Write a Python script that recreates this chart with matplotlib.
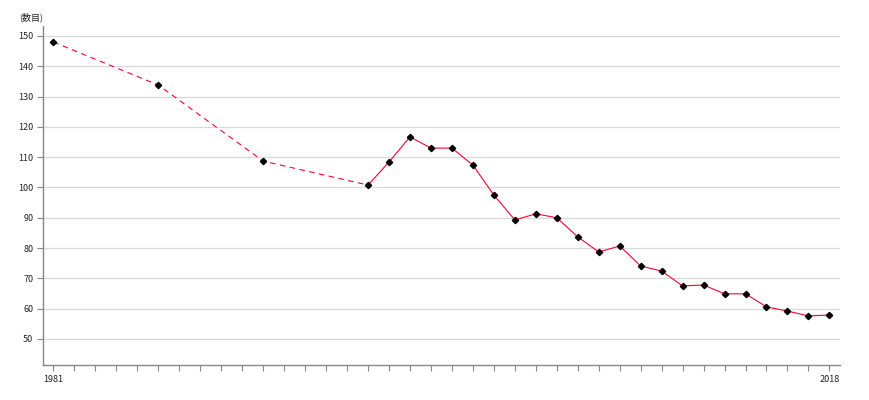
import matplotlib
matplotlib.use("Agg")
import matplotlib.pyplot as plt
import numpy as np

plt.rcParams['font.family'] = ['Noto Sans CJK JP', 'DejaVu Sans']

years_sparse = [1981, 1986, 1991, 1996]
values_sparse = [148.0, 133.8, 108.7, 100.8]
years_annual = list(range(1996, 2019))
values_annual = [100.8, 108.4, 116.7, 113.0, 113.0, 107.4, 97.5, 89.3, 91.3, 90.0,
                 83.7, 78.7, 80.7, 74.1, 72.4, 67.5, 67.8, 64.9, 64.9, 60.6,
                 59.2, 57.6, 57.9]
y_ticks = [50, 60, 70, 80, 90, 100, 110, 120, 130, 140, 150]
unit_label = "(数目)"

line_color = "#ff0033"

fig = plt.figure(figsize=(8.7, 4.0), dpi=100)
ax = fig.add_axes([0.0494, 0.0875, 0.916, 0.8475])

for y in y_ticks:
    ax.axhline(y, color="#d9d9d9", lw=0.9, zorder=0)

ax.plot(years_sparse, values_sparse, color=line_color, lw=0.8, ls=(0, (5, 4)), zorder=2)
ax.plot(years_annual, values_annual, color=line_color, lw=0.8, zorder=2)
all_years = years_sparse + years_annual[1:]
all_vals = values_sparse + values_annual[1:]
ax.plot(all_years, all_vals, ls="none", marker="D", ms=3.2, color="black", zorder=3)

ax.set_xlim(1980.5, 2018.5)
ax.set_ylim(41.4, 153.3)
ax.set_yticks(y_ticks)
ax.set_yticklabels([str(v) for v in y_ticks], fontsize=6.5, color="#222222")
ax.set_xticks(list(range(1981, 2019)))
ax.set_xticklabels(["1981" if y == 1981 else ("2018" if y == 2018 else "") for y in range(1981, 2019)],
                   fontsize=6.5, color="#222222")
ax.tick_params(axis="both", length=4, width=0.8, color="#888888", pad=3)

for s in ["top", "right"]:
    ax.spines[s].set_visible(False)
for s in ["left", "bottom"]:
    ax.spines[s].set_color("#888888")
    ax.spines[s].set_linewidth(1.0)

fig.text(0.022, 0.957, unit_label, fontsize=6.5, color="#222222", ha="left", va="center")

fig.savefig("out.png", dpi=100)
